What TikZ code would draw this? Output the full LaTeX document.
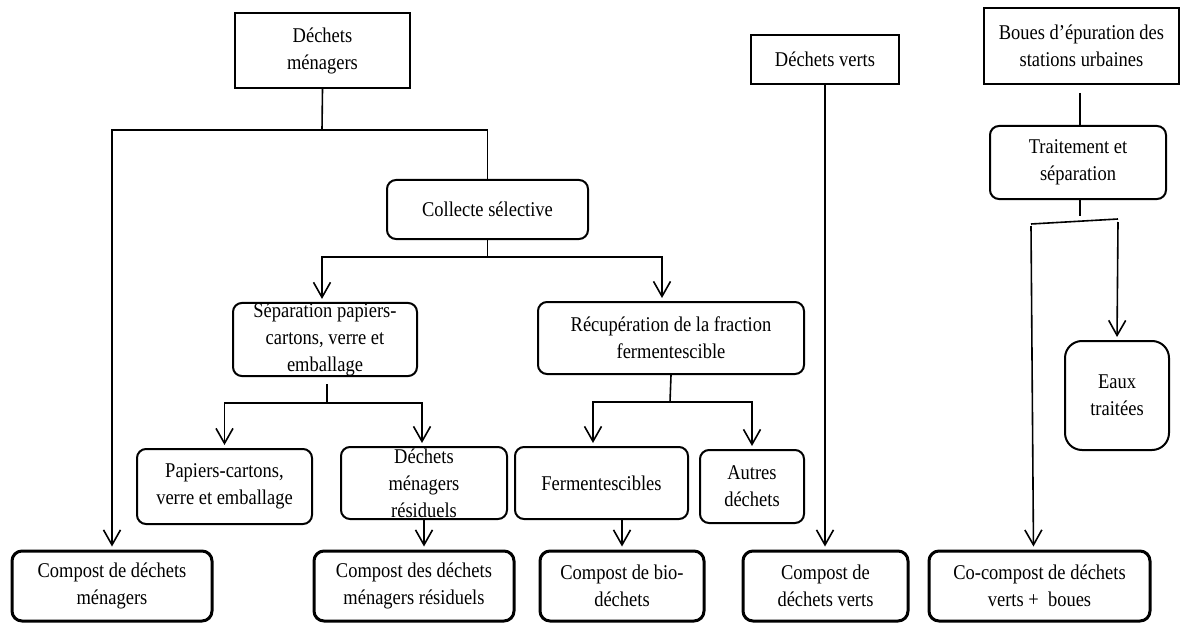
\documentclass[tikz,border=0pt]{standalone}
\usepackage{fontspec}
\setmainfont{Liberation Serif}[FakeStretch=0.88]
\usetikzlibrary{arrows.meta}
\begin{document}
\begin{tikzpicture}[x=1pt,y=-1pt,
  txt/.style={font=\fontsize{21}{27}\selectfont, align=center, inner sep=0pt},
  sq/.style={txt, draw, line width=2pt},
  rb/.style={txt, draw, line width=2pt, rounded corners=9pt},
  fin/.style={txt, draw, line width=3pt, rounded corners=10pt},
  wire/.style={line width=1.6pt},
  arr/.style={wire, -{Straight Barb[length=15pt,width=17pt]}, shorten >=3pt}]
\useasboundingbox (0,0) rectangle (1181,623);
% top sources
\node[sq, minimum width=175pt, minimum height=75pt] (dm) at (322.5,50.5) {Déchets\\ménagers};
\node[sq, minimum width=148pt, minimum height=49pt] (dv) at (825,59.5) {Déchets verts};
\node[sq, minimum width=195pt, minimum height=76pt] (bo) at (1081.5,46) {Boues d’épuration des\\stations urbaines};
% middle
\node[rb, minimum width=201pt, minimum height=59pt] (cs) at (487.5,209.5) {Collecte sélective};
\node[rb, minimum width=184pt, minimum height=73pt] (sep) at (325,339.5) {Séparation papiers-\\cartons, verre et\\emballage};
\node[rb, minimum width=266pt, minimum height=72pt] (rec) at (671,338) {Récupération de la fraction\\fermentescible};
\node[rb, minimum width=175pt, minimum height=75pt] (pc) at (224.5,486.5) {Papiers-cartons,\\verre et emballage};
\node[rb, minimum width=166pt, minimum height=72pt] (dmr) at (424,483) {Déchets\\ménagers\\résiduels};
\node[rb, minimum width=173pt, minimum height=72pt] (fe) at (601.5,483) {Fermentescibles};
\node[rb, minimum width=104pt, minimum height=73pt] (ad) at (752,486.5) {Autres\\déchets};
\node[rb, minimum width=176pt, minimum height=73pt] (ts) at (1078,162.5) {Traitement et\\séparation};
\node[rb, rounded corners=17pt, minimum width=104pt, minimum height=109pt] (eaux) at (1117,395.5) {Eaux\\traitées};
% final products
\node[fin, minimum width=200pt, minimum height=70pt] (cm) at (112,586) {Compost de déchets\\ménagers};
\node[fin, minimum width=200pt, minimum height=70pt] (cr) at (414,586) {Compost des déchets\\ménagers résiduels};
\node[fin, minimum width=164pt, minimum height=70pt] (cb) at (622,586) {Compost de bio-\\déchets};
\node[fin, minimum width=165pt, minimum height=70pt] (cv) at (825.5,586) {Compost de\\déchets verts};
\node[fin, minimum width=221pt, minimum height=70pt] (cc) at (1039.5,586) {Co-compost de déchets\\verts + \ boues};
% connectors: household waste
\coordinate (j1) at (322,130);
\draw[wire] (dm.south) -- (j1);
\draw[arr] (cs.north) |- (j1) -| (cm.north);
\coordinate (j2) at (487.5,257);
\draw[wire] (cs.south) -- (j2);
\draw[arr] (j2) -| ([xshift=-3pt]sep.north);
\draw[arr] (j2) -| ([xshift=-9pt]rec.north);
\coordinate (s3) at (327,384);
\coordinate (j3) at (327,403);
\draw[wire] (s3) -- (j3);
\draw[arr] (j3) -| (pc.north);
\draw[arr] (j3) -| ([xshift=-2pt]dmr.north);
\coordinate (j4) at (670,402);
\draw[wire] (rec.south) -- (j4);
\draw[arr] (j4) -| ([xshift=-8.5pt]fe.north);
\draw[arr] (j4) -| (ad.north);
\draw[arr] (dmr.south) -- (dmr.south |- cr.north);
\draw[arr] (cb.north |- fe.south) -- (cb.north);
% green waste
\draw[arr] (dv.south) -- (dv.south |- cv.north);
% sludge
\coordinate (b1) at (1080,93);
\draw[wire] (b1) -- (b1 |- ts.north);
\draw[wire] (ts.south -| b1) -- ++(0,16);
\coordinate (sl) at (1031,224);
\coordinate (sr) at (1118,219);
\draw[wire] (sl) -- (sr);
\draw[arr] ([yshift=-2pt]sl) -- ([xshift=-6pt]cc.north);
\draw[arr] ([yshift=-3pt]sr) -- (eaux.north);
\end{tikzpicture}
\end{document}
